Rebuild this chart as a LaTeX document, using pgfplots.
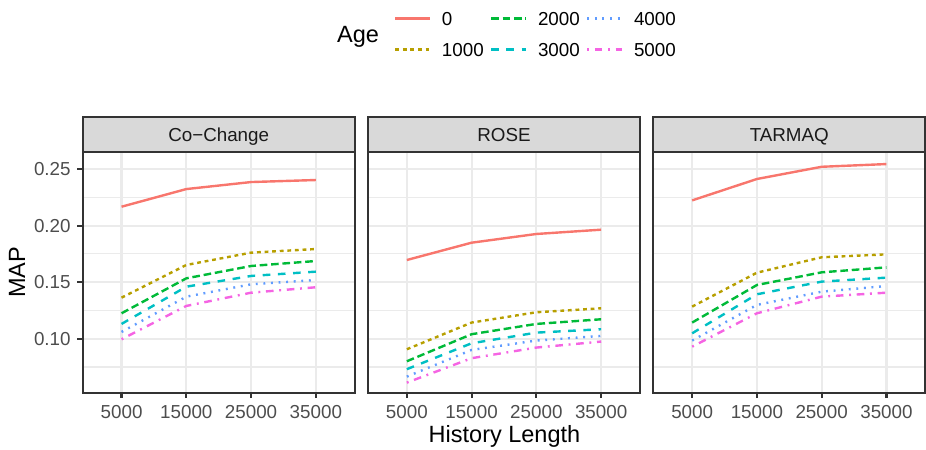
\documentclass[border=0pt]{standalone}
\usepackage{fontspec}
\setmainfont{Liberation Sans}
\usepackage{pgfplots}
\pgfplotsset{compat=1.18}
\usepackage{pgfplotstable}

\definecolor{c0}{HTML}{F8766D}
\definecolor{c1}{HTML}{B79F00}
\definecolor{c2}{HTML}{00BA38}
\definecolor{c3}{HTML}{00BFC4}
\definecolor{c4}{HTML}{619CFF}
\definecolor{c5}{HTML}{F564E3}
\definecolor{g92}{HTML}{EBEBEB}
\definecolor{g85}{HTML}{D9D9D9}
\definecolor{g30}{HTML}{4D4D4D}
\definecolor{g20}{HTML}{333333}
\definecolor{g10}{HTML}{1A1A1A}

\pgfplotstableread{
x a0 a1 a2 a3 a4 a5
0 0.2167 0.1363 0.1225 0.1131 0.1060 0.0995
1 0.2323 0.1652 0.1534 0.1460 0.1372 0.1290
2 0.2385 0.1761 0.1643 0.1555 0.1481 0.1407
3 0.2403 0.1793 0.1687 0.1593 0.1519 0.1455
}\cochange
\pgfplotstableread{
x a0 a1 a2 a3 a4 a5
0 0.1696 0.0907 0.0801 0.0731 0.0665 0.0612
1 0.1849 0.1143 0.1040 0.0960 0.0901 0.0828
2 0.1926 0.1234 0.1131 0.1054 0.0984 0.0922
3 0.1964 0.1269 0.1172 0.1084 0.1025 0.0975
}\rose
\pgfplotstableread{
x a0 a1 a2 a3 a4 a5
0 0.2223 0.1284 0.1143 0.1048 0.0984 0.0930
1 0.2412 0.1584 0.1475 0.1393 0.1299 0.1225
2 0.2520 0.1720 0.1587 0.1505 0.1416 0.1372
3 0.2544 0.1746 0.1631 0.1540 0.1466 0.1407
}\tarmaq

\pgfplotsset{
  s0/.style={c0, line width=1.2bp, solid},
  s1/.style={c1, line width=1.2bp, dash pattern=on 1.9bp off 1.9bp},
  s2/.style={c2, line width=1.2bp, dash pattern=on 3.8bp off 1.9bp},
  s3/.style={c3, line width=1.2bp, dash pattern=on 3.8bp off 3.8bp},
  s4/.style={c4, line width=1.2bp, dash pattern=on 0.95bp off 2.85bp},
  s5/.style={c5, line width=1.2bp, dash pattern=on 0.95bp off 2.85bp on 3.8bp off 2.85bp},
  panel/.style={
    scale only axis, width=136bp, height=120.2bp, anchor=south west,
    xmin=-0.6, xmax=3.6, ymin=0.0523, ymax=0.2648,
    xtick={0,1,2,3}, xticklabels={5000,15000,25000,35000},
    ytick={0.10,0.15,0.20,0.25}, minor ytick={0.075,0.125,0.175,0.225},
    grid=both,
    major grid style={g92, line width=1.1bp},
    minor grid style={g92, line width=0.55bp},
    axis line style={g20, line width=1.1bp},
    tick align=outside, xtick pos=bottom, ytick pos=left,
    major tick length=2.75bp, minor tick length=0pt,
    tick style={g20, line width=1.1bp},
    ticklabel style={font=\fontsize{9.4bp}{11bp}\selectfont, text=g30},
    xticklabel style={inner sep=0pt, anchor=north, text height=6.73bp, text depth=0pt, yshift=-3.1bp},
    yticklabel style={inner sep=0pt, anchor=east, xshift=-3.1bp},
    clip=true,
  },
}

\begin{document}
\begin{tikzpicture}
\useasboundingbox (0,0) rectangle (463bp,225bp);

\begin{axis}[panel, name=p1, at={(41.35bp,28.65bp)},
  yticklabels={0.10,0.15,0.20,0.25},
  legend columns=3,
  legend cell align=left,
  legend style={at={(1.1445,1.585)}, anchor=north west, draw=none, fill=none,
    inner sep=0pt, outer sep=0pt, font=\fontsize{9.4bp}{11bp}\selectfont,
    nodes={inner sep=0pt, text height=6.73bp, text depth=0pt},
    row sep=8.77bp,
    /tikz/every odd column/.style={column sep=5.5bp},
    /tikz/every even column/.style={column sep=3.1bp}},
  legend image code/.code={\draw[#1] (0bp,0bp) -- (17.3bp,0bp);},
]
\addlegendimage{s0}\addlegendentry{0}
\addlegendimage{s2}\addlegendentry{2000}
\addlegendimage{s4}\addlegendentry{4000}
\addlegendimage{s1}\addlegendentry{1000}
\addlegendimage{s3}\addlegendentry{3000}
\addlegendimage{s5}\addlegendentry{5000}
\addplot[s5, forget plot] table[x=x, y=a5] {\cochange};
\addplot[s4, forget plot] table[x=x, y=a4] {\cochange};
\addplot[s3, forget plot] table[x=x, y=a3] {\cochange};
\addplot[s2, forget plot] table[x=x, y=a2] {\cochange};
\addplot[s1, forget plot] table[x=x, y=a1] {\cochange};
\addplot[s0, forget plot] table[x=x, y=a0] {\cochange};
\end{axis}

\begin{axis}[panel, name=p2, at={(184bp,28.65bp)}, yticklabels={}, ytick style={draw=none}]
\addplot[s5] table[x=x, y=a5] {\rose};
\addplot[s4] table[x=x, y=a4] {\rose};
\addplot[s3] table[x=x, y=a3] {\rose};
\addplot[s2] table[x=x, y=a2] {\rose};
\addplot[s1] table[x=x, y=a1] {\rose};
\addplot[s0] table[x=x, y=a0] {\rose};
\end{axis}

\begin{axis}[panel, name=p3, at={(326.65bp,28.65bp)}, yticklabels={}, ytick style={draw=none}]
\addplot[s5] table[x=x, y=a5] {\tarmaq};
\addplot[s4] table[x=x, y=a4] {\tarmaq};
\addplot[s3] table[x=x, y=a3] {\tarmaq};
\addplot[s2] table[x=x, y=a2] {\tarmaq};
\addplot[s1] table[x=x, y=a1] {\tarmaq};
\addplot[s0] table[x=x, y=a0] {\tarmaq};
\end{axis}

\foreach \p/\t in {p1/Co−Change, p2/ROSE, p3/TARMAQ}{
  \filldraw[fill=g85, draw=g20, line width=1.1bp] (\p.north west) rectangle ([yshift=17.6bp]\p.north east);
  \node[inner sep=0pt, text height=6.73bp, text depth=0pt, text=g10, font=\fontsize{9.4bp}{11bp}\selectfont] at ([yshift=8.8bp]\p.north) {\t};
}

\node[rotate=90, anchor=base, inner sep=0pt, font=\fontsize{11.75bp}{14bp}\selectfont] at (12.5bp,88.75bp) {MAP};
\node[anchor=base, inner sep=0pt, font=\fontsize{11.75bp}{14bp}\selectfont] at (252.25bp,3.85bp) {History Length};
\node[anchor=base west, inner sep=0pt, font=\fontsize{11.75bp}{14bp}\selectfont] at (168.35bp,203.65bp) {Age};
\end{tikzpicture}
\end{document}
